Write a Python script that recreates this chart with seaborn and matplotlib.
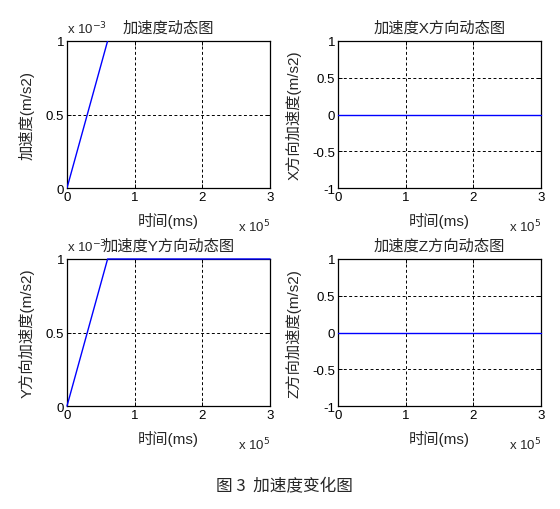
import matplotlib
matplotlib.use("Agg")
import matplotlib.pyplot as plt
import seaborn as sns
import pandas as pd
import numpy as np
from matplotlib.ticker import FuncFormatter, FixedLocator

sns.set_style("white")
plt.rcParams['font.family'] = ['Liberation Sans', 'Noto Sans CJK SC', 'DejaVu Sans']
plt.rcParams['axes.unicode_minus'] = False

# Data
time_ms = [0, 60000, 300000]
acc_total = [0, 0.001, 0.005]
acc_x = [0, 0, 0]
acc_y = [0, 0.001, 0.001]
acc_z = [0, 0, 0]

titles = ['加速度动态图', '加速度X方向动态图', '加速度Y方向动态图', '加速度Z方向动态图']
ylabels = ['加速度(m/s2)', 'X方向加速度(m/s2)', 'Y方向加速度(m/s2)', 'Z方向加速度(m/s2)']
xlabel = '时间(ms)'
caption = '图 3  加速度变化图'
series = [acc_total, acc_x, acc_y, acc_z]
ylims = [(0, 0.001), (-1, 1), (0, 0.001), (-1, 1)]
yticks = [[0, 0.0005, 0.001], [-1, -0.5, 0, 0.5, 1], [0, 0.0005, 0.001], [-1, -0.5, 0, 0.5, 1]]
xticks = [0, 100000, 200000, 300000]

fig = plt.figure(figsize=(5.6, 5.1), dpi=100)
W, H = 560, 510
boxes = [(67, 42), (338, 42), (67, 260), (338, 260)]
aw, ah = 203, 147
ylab_x = [-0.197, -0.22, -0.197, -0.22]

fs_tick = 9.5
fs_cjk = 11

for i in range(4):
    x0, y0 = boxes[i]
    ax = fig.add_axes([x0 / W, 1 - (y0 + ah) / H, aw / W, ah / H])
    df = pd.DataFrame({'t': time_ms, 'a': series[i]})
    inside = max(series[i]) <= ylims[i][1] and min(series[i]) >= ylims[i][0]
    sns.lineplot(data=df, x='t', y='a', ax=ax, color='#0000FF', lw=1.0)
    for ln in ax.get_lines():
        ln.set_zorder(4)
        if inside:
            ln.set_clip_on(False)
    ax.set_xlim(0, 300000)
    ax.set_ylim(*ylims[i])
    ax.xaxis.set_major_locator(FixedLocator(xticks))
    ax.yaxis.set_major_locator(FixedLocator(yticks[i]))
    ax.xaxis.set_major_formatter(FuncFormatter(lambda v, p: f'{v/1e5:g}'))
    scaled = ylims[i][1] < 0.01
    if scaled:
        ax.yaxis.set_major_formatter(FuncFormatter(lambda v, p: f'{v*1e3:g}'))
    else:
        ax.yaxis.set_major_formatter(FuncFormatter(lambda v, p: f'{v:g}'))
    ax.grid(True, color='black', linestyle=(0, (3, 2.5)), linewidth=0.7)
    for s in ax.spines.values():
        s.set_color('black')
        s.set_linewidth(0.9)
    ax.tick_params(direction='in', length=3, width=0.7, labelsize=fs_tick,
                   top=True, right=True, bottom=True, left=True, pad=2, colors='black')
    ax.set_title(titles[i], fontsize=fs_cjk, pad=7)
    ax.set_xlabel(xlabel, fontsize=fs_cjk)
    ax.xaxis.set_label_coords(0.5, -0.215)
    ax.xaxis.label.set_va('center')
    ax.set_ylabel(ylabels[i], fontsize=fs_cjk)
    ax.yaxis.set_label_coords(ylab_x[i], 0.5)
    ax.yaxis.label.set_va('center')
    ax.text(1.0, -0.26, r'x 10$^{5}$', transform=ax.transAxes, ha='right', va='center',
            fontsize=fs_tick)
    if scaled:
        ax.text(0.0, 1.03, r'x 10$^{-3}$', transform=ax.transAxes, ha='left', va='bottom',
                fontsize=fs_tick)

fig.text(284 / W, 1 - 487 / H, caption, ha='center', va='center', fontsize=12,
         family=['Noto Sans CJK SC', 'DejaVu Sans'])

fig.savefig('out.png', dpi=100, facecolor='white')
